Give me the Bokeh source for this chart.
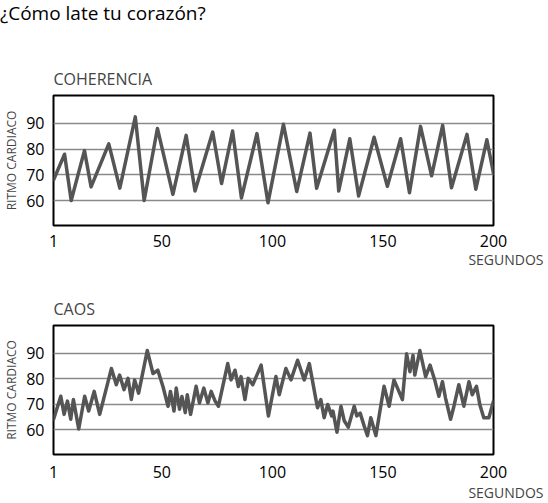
from bokeh.plotting import figure
from bokeh.models import Range1d, Title, FixedTicker, ColumnDataSource, Div
from bokeh.layouts import column
from bokeh.embed import file_html
from bokeh.resources import INLINE

FONT = "Open Sans"

main_title = "¿Cómo late tu corazón?"
panel_titles = ["COHERENCIA", "CAOS"]
x_label = "SEGUNDOS"
y_label = "RITMO CARDIACO"
x_ticks = [1, 50, 100, 150, 200]
y_ticks = [60, 70, 80, 90]

coh_seconds = [1, 6, 9, 15, 18, 26, 31, 38, 42, 48, 55, 61, 65, 73, 77, 82, 86,
               93, 98, 105, 111, 117, 120, 128, 130, 135, 139, 146, 152, 158,
               162, 167, 172, 177, 181, 188, 192, 197, 200]
coh_bpm = [68, 78, 60, 79.4, 65.3, 82, 64.8, 92.5, 60, 88, 62.4, 85.3, 63.7,
           86.6, 66.6, 87, 61, 86, 59.1, 89.6, 63.5, 86.2, 64.8, 87.3, 63.7,
           84, 61.8, 84.6, 65.5, 84, 63, 88.8, 69.6, 89.2, 65, 85.7, 64.4,
           83.6, 70.5]

caos_seconds = [1, 4.3, 5.8, 7.3, 8.8, 10, 12.4, 15.1, 16.9, 19.4, 21.9, 27.2,
                29.4, 30.9, 32.9, 34.7, 36.2, 37.7, 39.5, 43.4, 46, 48.2, 50.5,
                52.8, 53.9, 55.5, 56.5, 58, 59.1, 60.6, 61.5, 63, 65.5, 67, 69,
                70.8, 72.3, 74.1, 75.6, 79.8, 81.3, 83.1, 84.6, 85.8, 87.6,
                89.1, 91.1, 92.3, 94.9, 98.2, 101.6, 103.1, 106.1, 108.4,
                111.4, 114.4, 116.7, 119.7, 120.4, 121.9, 123.4, 125, 126.8,
                127.4, 129.2, 131, 132.5, 134.3, 137, 138.2, 139.7, 141.5, 143,
                144.5, 146.8, 150.5, 152.8, 155, 158.8, 160.7, 162.2, 163.6,
                164.4, 166.7, 169.3, 171.3, 173.4, 175.3, 176.9, 178.3, 180.6,
                182.1, 184.3, 186.6, 188.9, 190.4, 192.3, 193.8, 195.6, 197.9,
                200]
caos_bpm = [64, 73.1, 66, 71.2, 64.1, 71.8, 60.3, 73.1, 67.3, 75, 66, 84, 77.6,
            81.4, 75.7, 80.1, 71.8, 79.5, 74.3, 91, 82, 83.3, 76.9, 69.2, 75,
            67.3, 76.3, 68, 73, 66.7, 73.7, 66, 77, 70.5, 76.3, 70.5, 75,
            71.2, 69.2, 85.9, 79.5, 83.3, 76.9, 80.8, 71.8, 80.1, 77.6, 80,
            85.3, 65.4, 80.8, 73.7, 84, 79.5, 87.2, 79.5, 85.9, 71.8, 68.6,
            71.8, 64.7, 69.9, 65.4, 67.3, 59, 69.2, 63.5, 61, 69.2, 65.4, 66.5,
            61.5, 57.7, 64.7, 57.7, 77, 69.2, 79.5, 71.8, 89.7, 82.7, 89.1,
            81.4, 91, 80.8, 85.3, 79.5, 73.1, 78.8, 72.4, 64.1, 69.2, 77.6,
            69.2, 78.8, 73.7, 77, 69.9, 64.7, 64.7, 71.2]

W = 548


def make_panel(name, xs, ys, height, top, bottom, x_standoff, seg_standoff,
               seg_valign):
    p = figure(width=W, height=height, x_range=Range1d(1, 200),
               y_range=Range1d(50.3, 100.8), output_backend="svg",
               toolbar_location=None, title=None,
               min_border_left=52, min_border_right=55,
               min_border_top=top, min_border_bottom=bottom)
    src = ColumnDataSource(dict(x=xs, y=ys))
    p.line("x", "y", source=src, line_color="#555555", line_width=3.5,
           line_join="round", line_cap="round")

    p.outline_line_color = "black"
    p.outline_line_width = 2
    p.background_fill_color = "white"
    p.border_fill_color = "white"

    p.xgrid.visible = False
    p.ygrid.grid_line_color = "#8a8a8a"
    p.ygrid.grid_line_width = 1.5

    p.xaxis.ticker = FixedTicker(ticks=x_ticks)
    p.yaxis.ticker = FixedTicker(ticks=y_ticks)
    for ax in (p.xaxis[0], p.yaxis[0]):
        ax.axis_line_color = None
        ax.major_tick_line_color = None
        ax.minor_tick_line_color = None
        ax.major_label_text_font = FONT
        ax.major_label_text_font_size = "16px"
        ax.major_label_text_color = "black"
    p.xaxis.major_label_standoff = x_standoff
    p.yaxis.major_label_standoff = 3
    p.yaxis.axis_label = y_label
    p.yaxis.axis_label_text_font = FONT
    p.yaxis.axis_label_text_font_size = "12px"
    p.yaxis.axis_label_text_font_style = "normal"
    p.yaxis.axis_label_standoff = 3

    p.add_layout(Title(text=x_label, align="right", offset=-50,
                       vertical_align=seg_valign,
                       text_font=FONT, text_font_size="14px",
                       text_font_style="normal", standoff=seg_standoff), "below")

    p.add_layout(Title(text=name, align="left", text_font=FONT,
                       text_font_size="16px", text_font_style="normal",
                       standoff=12), "above")
    return p


head = Div(text=main_title, width=W, height=26, margin=0,
           styles={"font-family": FONT, "font-size": "19px",
                   "line-height": "26px", "color": "black"})
p1 = make_panel(panel_titles[0], coh_seconds, coh_bpm, 259, 69, 60, 3, 0,
                "top")
p2 = make_panel(panel_titles[1], caos_seconds, caos_bpm, 218, 40, 49, 5, 1,
                "bottom")

layout = column(head, p1, p2, spacing=0)
open("out.html", "w").write(file_html(layout, INLINE))
